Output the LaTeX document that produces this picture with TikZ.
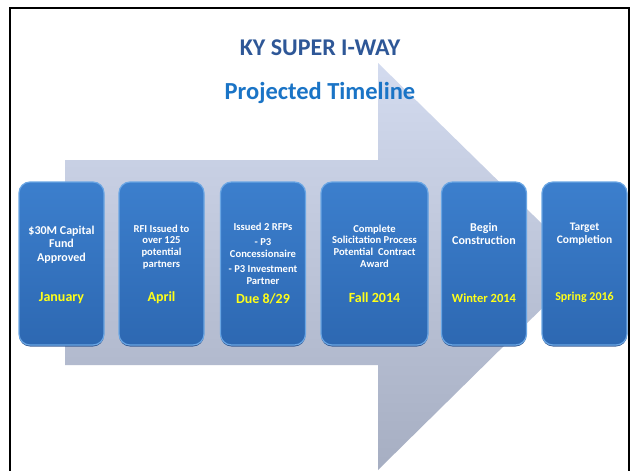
\documentclass[tikz,border=0pt]{standalone}
\usepackage{fontspec}
\setmainfont{Carlito}
\usepackage{xcolor}
\usetikzlibrary{shadows}

\definecolor{titleblue}{HTML}{2E5797}
\definecolor{subblue}{HTML}{1A74C6}
\definecolor{boxtop}{HTML}{3C7FCD}
\definecolor{boxbot}{HTML}{2D68B2}
\definecolor{boxedge}{HTML}{6AA6E4}
\definecolor{boxshade}{HTML}{244E8C}
\definecolor{arrowtop}{HTML}{D3DBEF}
\definecolor{arrowbot}{HTML}{A6AEC2}
\definecolor{dateyellow}{rgb}{1,1,0.1}

\begin{document}
\begin{tikzpicture}[x=1pt,y=-1pt,
    stagebox/.style={rounded corners=11pt, minimum height=163pt, minimum width=85pt,
        top color=boxtop, bottom color=boxbot, draw=boxedge, line width=1.2pt,
        drop shadow={shadow xshift=0pt, shadow yshift=-1.5pt, fill=boxshade, opacity=0.9}},
    stagetext/.style={anchor=north, inner sep=0pt, align=center, text=white,
        font=\bfseries\fontsize{10.6}{11.8}\selectfont},
    datetext/.style={inner sep=0pt, text=dateyellow, font=\bfseries\fontsize{14}{16}\selectfont}]
    \useasboundingbox (0,0) rectangle (638,471);
    \fill[white] (0,0) rectangle (638,471);

    % big arrow behind the boxes
    \shade[top color=arrowtop, bottom color=arrowbot]
        (65,160) -- (378,160) -- (378,63) -- (585,266) -- (378,470)
        -- (378,365) -- (65,365) -- cycle;

    % slide frame
    \draw[line width=2pt] (10,471) -- (10,8) -- (629,8) -- (629,471);

    \node[text=titleblue, font=\bfseries\fontsize{24}{28}\selectfont] (title) at (320,48) {KY SUPER I-WAY};
    \node[text=subblue, font=\bfseries\fontsize{24.5}{28}\selectfont] (subtitle) at (320,93) {Projected Timeline};

    % timeline stages
    \node[stagebox] (jan) at (61.5,263.5) {};
    \node[stagebox] (apr) at (161.5,263.5) {};
    \node[stagebox] (due) at (263,263.5) {};
    \node[stagebox, minimum width=107pt] (fall) at (374.5,263.5) {};
    \node[stagebox] (winter) at (484,263.5) {};
    \node[stagebox] (spring) at (584.5,263.5) {};

    \node[stagetext, font=\bfseries\fontsize{12}{13.5}\selectfont] (jantext) at ([yshift=-44pt]jan.north) {\$30M Capital\\Fund\\Approved};
    \node[stagetext] (aprtext) at ([yshift=-43pt]apr.north) {RFI Issued to\\over 125\\potential\\partners};
    \node[stagetext] (duetext) at ([yshift=-41pt]due.north) {Issued 2 RFPs\\[4pt]- P3\\Concessionaire\\[3pt]- P3 Investment\\Partner};
    \node[stagetext] (falltext) at ([yshift=-43pt]fall.north) {Complete\\Solicitation Process\\Potential~~Contract\\Award};
    \node[stagetext, font=\bfseries\fontsize{12}{13}\selectfont] (wintertext) at ([yshift=-41pt]winter.north) {Begin\\Construction};
    \node[stagetext, font=\bfseries\fontsize{11.5}{13}\selectfont] (springtext) at ([yshift=-41.5pt]spring.north) {Target\\Completion};

    \node[datetext] (jandate) at ([yshift=48pt]jan.south) {January};
    \node[datetext] (aprdate) at ([yshift=48pt]apr.south) {April};
    \node[datetext] (duedate) at ([yshift=47pt]due.south) {Due 8/29};
    \node[datetext] (falldate) at ([yshift=48pt]fall.south) {Fall 2014};
    \node[datetext, font=\bfseries\fontsize{12.5}{14}\selectfont] (winterdate) at ([yshift=47pt]winter.south) {Winter 2014};
    \node[datetext, font=\bfseries\fontsize{12}{14}\selectfont] (springdate) at ([yshift=48pt]spring.south) {Spring 2016};
\end{tikzpicture}
\end{document}
